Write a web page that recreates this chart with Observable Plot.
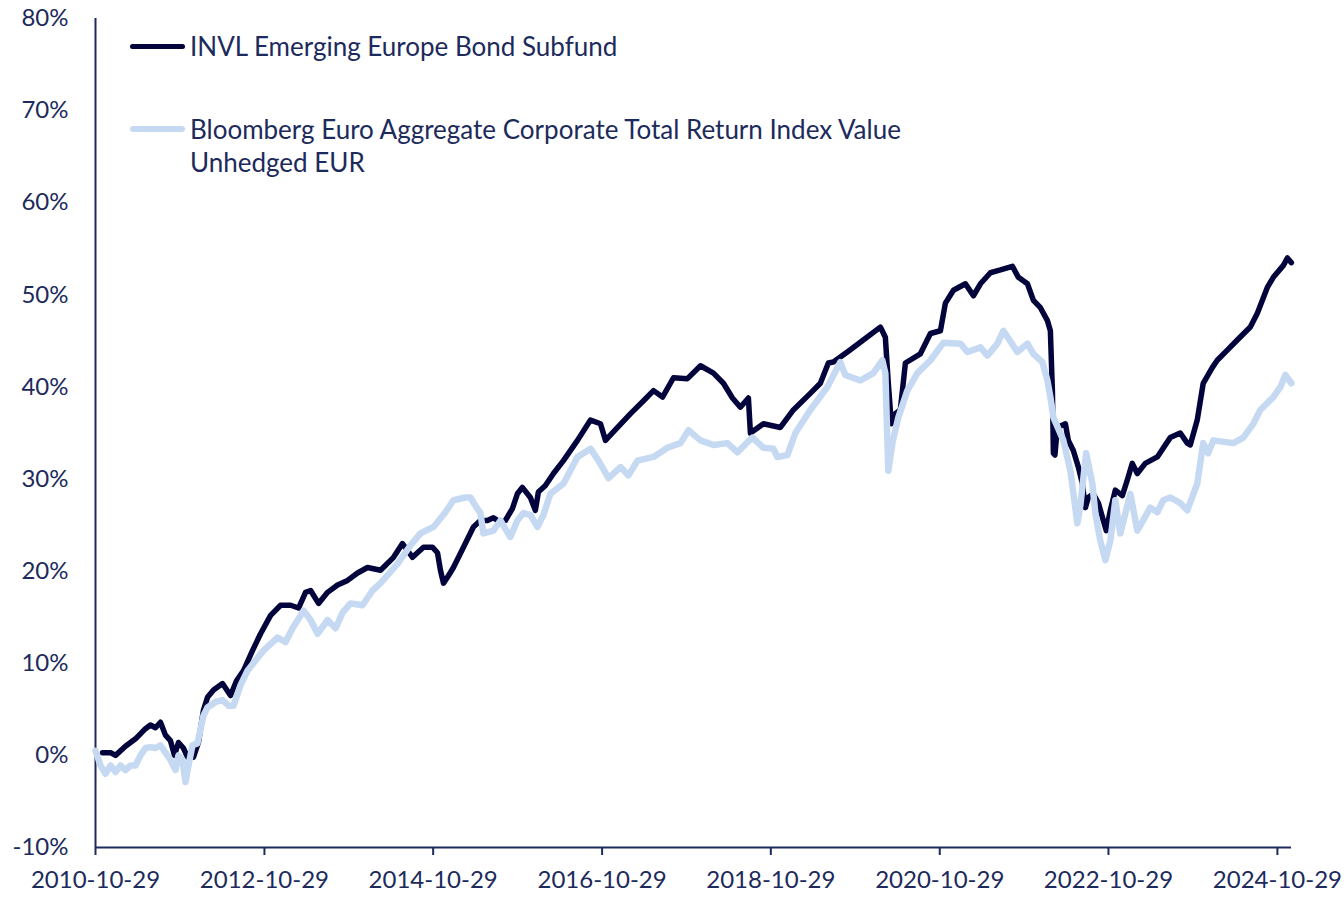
<!DOCTYPE html>
<html><head><meta charset="utf-8">
<script src="https://cdn.jsdelivr.net/npm/d3@7"></script>
<script src="https://cdn.jsdelivr.net/npm/@observablehq/plot@0.6"></script>
<style>
body{margin:0;background:#fff;}
#wrap{position:relative;width:1344px;height:897px;font-family:Lato,"Open Sans",sans-serif;color:#1c2a5c;}
#chart svg{display:block;}
.lg{position:absolute;left:190px;font-size:26px;line-height:33px;white-space:nowrap;}
.sw{position:absolute;left:130px;width:55px;border-radius:3px;}
</style></head><body><div id="wrap"><div id="chart"></div></div>
<script>
const seriesNames = ["INVL Emerging Europe Bond Subfund", "Bloomberg Euro Aggregate Corporate Total Return Index Value Unhedged EUR"];
const seriesColors = ["#03043b", "#c6d9f2"];
const yTicks = [-10, 0, 10, 20, 30, 40, 50, 60, 70, 80];
const xTickDates = ["2010-10-29","2012-10-29","2014-10-29","2016-10-29","2018-10-29","2020-10-29","2022-10-29","2024-10-29"];
const xDomain = ["2010-10-29", "2024-12-29"];

// decimal years, cumulative return in %
const fundYears = [2010.908, 2011.003, 2011.062, 2011.180, 2011.299, 2011.417, 2011.476, 2011.536, 2011.595, 2011.654, 2011.713, 2011.761, 2011.808, 2011.867, 2011.915, 2011.986, 2012.045, 2012.104, 2012.152, 2012.223, 2012.329, 2012.424, 2012.495, 2012.578, 2012.685, 2012.779, 2012.898, 2013.016, 2013.135, 2013.229, 2013.312, 2013.372, 2013.466, 2013.573, 2013.691, 2013.810, 2013.928, 2014.047, 2014.201, 2014.355, 2014.461, 2014.580, 2014.710, 2014.816, 2014.876, 2014.911, 2014.947, 2015.006, 2015.065, 2015.184, 2015.302, 2015.385, 2015.468, 2015.539, 2015.622, 2015.681, 2015.764, 2015.823, 2015.882, 2015.977, 2016.036, 2016.072, 2016.155, 2016.250, 2016.368, 2016.534, 2016.688, 2016.806, 2016.865, 2017.008, 2017.162, 2017.316, 2017.434, 2017.541, 2017.671, 2017.837, 2017.991, 2018.145, 2018.263, 2018.370, 2018.464, 2018.559, 2018.583, 2018.737, 2018.938, 2019.092, 2019.293, 2019.412, 2019.507, 2019.566, 2019.732, 2019.921, 2020.123, 2020.182, 2020.217, 2020.253, 2020.300, 2020.359, 2020.419, 2020.596, 2020.715, 2020.833, 2020.892, 2020.987, 2021.129, 2021.224, 2021.307, 2021.425, 2021.544, 2021.686, 2021.757, 2021.864, 2021.935, 2022.018, 2022.101, 2022.136, 2022.160, 2022.172, 2022.190, 2022.219, 2022.314, 2022.349, 2022.408, 2022.468, 2022.515, 2022.551, 2022.586, 2022.645, 2022.705, 2022.764, 2022.799, 2022.847, 2022.906, 2022.989, 2023.048, 2023.107, 2023.167, 2023.261, 2023.404, 2023.557, 2023.676, 2023.759, 2023.794, 2023.877, 2023.948, 2024.055, 2024.114, 2024.233, 2024.351, 2024.505, 2024.588, 2024.706, 2024.777, 2024.896, 2024.943, 2024.990];
const fundReturns = [0.3, 0.3, 0.0, 1.0, 1.8, 2.9, 3.3, 3.0, 3.6, 2.2, 1.6, 0.0, 1.4, 0.8, -0.2, -0.2, 1.4, 4.9, 6.3, 7.1, 7.8, 6.5, 8.1, 9.2, 11.4, 13.2, 15.2, 16.3, 16.3, 16.0, 17.7, 17.9, 16.5, 17.7, 18.5, 19.0, 19.8, 20.4, 20.1, 21.5, 23.0, 21.5, 22.6, 22.6, 22.0, 20.1, 18.7, 19.5, 20.4, 22.6, 24.8, 25.5, 25.5, 25.8, 25.3, 25.5, 26.8, 28.4, 29.1, 28.0, 26.6, 28.6, 29.3, 30.6, 32.0, 34.2, 36.4, 36.0, 34.2, 35.6, 37.1, 38.5, 39.6, 38.9, 41.0, 40.9, 42.3, 41.5, 40.4, 38.8, 37.8, 38.8, 35.0, 36.0, 35.6, 37.5, 39.3, 40.4, 42.6, 42.7, 43.8, 45.1, 46.5, 45.4, 40.4, 36.0, 37.1, 37.5, 42.6, 43.6, 45.8, 46.1, 49.1, 50.5, 51.2, 49.9, 51.2, 52.4, 52.7, 53.1, 51.9, 51.2, 49.4, 48.6, 47.2, 46.1, 39.6, 32.8, 32.6, 35.6, 36.0, 34.2, 33.1, 31.3, 29.5, 26.9, 28.0, 28.4, 27.4, 25.5, 24.4, 26.6, 28.8, 28.2, 29.9, 31.7, 30.6, 31.7, 32.4, 34.5, 35.0, 33.9, 33.7, 36.4, 40.4, 42.1, 42.9, 44.0, 45.1, 46.5, 48.0, 50.8, 51.9, 53.2, 54.0, 53.5];

const indexYears = [2010.825, 2010.884, 2010.943, 2011.003, 2011.062, 2011.121, 2011.180, 2011.240, 2011.299, 2011.358, 2011.417, 2011.476, 2011.536, 2011.595, 2011.654, 2011.713, 2011.773, 2011.808, 2011.855, 2011.891, 2011.927, 2011.974, 2012.033, 2012.104, 2012.152, 2012.246, 2012.329, 2012.400, 2012.460, 2012.542, 2012.625, 2012.720, 2012.815, 2012.981, 2013.075, 2013.158, 2013.289, 2013.372, 2013.454, 2013.573, 2013.668, 2013.751, 2013.845, 2013.987, 2014.106, 2014.201, 2014.402, 2014.556, 2014.674, 2014.828, 2014.970, 2015.065, 2015.207, 2015.267, 2015.326, 2015.385, 2015.420, 2015.539, 2015.622, 2015.740, 2015.823, 2015.894, 2015.977, 2016.060, 2016.131, 2016.214, 2016.368, 2016.534, 2016.688, 2016.783, 2016.901, 2017.043, 2017.138, 2017.244, 2017.434, 2017.600, 2017.754, 2017.849, 2017.991, 2018.145, 2018.310, 2018.429, 2018.547, 2018.607, 2018.737, 2018.855, 2018.903, 2019.021, 2019.116, 2019.293, 2019.495, 2019.649, 2019.708, 2019.886, 2020.040, 2020.146, 2020.182, 2020.217, 2020.265, 2020.336, 2020.442, 2020.561, 2020.715, 2020.869, 2021.070, 2021.153, 2021.307, 2021.390, 2021.508, 2021.579, 2021.745, 2021.864, 2021.935, 2022.041, 2022.101, 2022.136, 2022.172, 2022.290, 2022.373, 2022.456, 2022.491, 2022.560, 2022.634, 2022.669, 2022.728, 2022.788, 2022.847, 2022.906, 2022.965, 2023.084, 2023.167, 2023.320, 2023.404, 2023.474, 2023.557, 2023.676, 2023.759, 2023.877, 2023.948, 2024.007, 2024.067, 2024.304, 2024.422, 2024.540, 2024.623, 2024.777, 2024.860, 2024.919, 2024.990];
const indexReturns = [0.5, -1.1, -2.0, -1.1, -1.8, -1.1, -1.6, -1.1, -1.1, 0.0, 0.8, 0.9, 0.8, 1.1, 0.3, -0.5, -1.6, 0.0, -0.5, -2.9, -1.1, 1.1, 1.3, 4.3, 5.2, 5.8, 6.0, 5.4, 5.4, 7.6, 9.2, 10.3, 11.4, 12.8, 12.3, 13.8, 15.7, 14.7, 13.2, 14.7, 13.8, 15.5, 16.5, 16.3, 17.9, 18.7, 20.8, 22.8, 24.1, 24.8, 26.4, 27.7, 28.0, 28.0, 27.1, 26.3, 24.1, 24.4, 25.5, 23.7, 25.5, 26.3, 26.1, 24.8, 26.1, 28.4, 29.5, 32.4, 33.3, 32.0, 30.1, 31.3, 30.4, 32.0, 32.4, 33.4, 33.9, 35.3, 34.2, 33.7, 33.9, 32.9, 34.0, 34.5, 33.4, 33.3, 32.4, 32.6, 35.0, 37.5, 40.0, 42.7, 41.3, 40.7, 41.5, 42.9, 41.5, 30.9, 33.9, 36.7, 39.6, 41.5, 42.9, 44.8, 44.7, 43.8, 44.3, 43.4, 44.7, 46.1, 43.8, 44.7, 43.6, 42.7, 40.7, 38.9, 36.7, 34.2, 30.9, 25.2, 27.1, 32.8, 29.5, 26.3, 23.3, 21.2, 23.3, 27.7, 24.1, 28.4, 24.4, 26.9, 26.4, 27.7, 28.0, 27.4, 26.6, 29.5, 33.9, 32.8, 34.2, 33.9, 34.5, 36.0, 37.5, 38.9, 40.0, 41.3, 40.4];

const axisColor = "#1c2a5c";
const toDate = t => { const y = Math.floor(t); const a = Date.UTC(y,0,1), b = Date.UTC(y+1,0,1); return new Date(a + (t - y) * (b - a)); };
const parse = s => new Date(s + "T00:00:00Z");

const wrap = document.getElementById("wrap");
if (fundYears.length !== fundReturns.length || indexYears.length !== indexReturns.length) {
  throw new Error("length mismatch " + fundYears.length + "/" + fundReturns.length + " " + indexYears.length + "/" + indexReturns.length);
}
const fund = fundYears.map((t, i) => ({date: toDate(t), value: fundReturns[i]}));
const index = indexYears.map((t, i) => ({date: toDate(t), value: indexReturns[i]}));

const chart = Plot.plot({
  width: 1344, height: 897,
  marginLeft: 95, marginRight: 53, marginTop: 18, marginBottom: 50,
  style: {fontFamily: "Lato, 'Open Sans', sans-serif", fontSize: "24px", color: axisColor, background: "#fff", overflow: "visible"},
  x: {type: "utc", domain: xDomain.map(parse)},
  y: {domain: [-10, 80]},
  marks: [
    Plot.axisX({ticks: xTickDates.map(parse), tickFormat: d3.utcFormat("%Y-%m-%d"), tickSize: 8, tickPadding: 15, stroke: axisColor, strokeWidth: 2, strokeOpacity: 1, fill: axisColor, fontSize: 24, label: null}),
    Plot.axisY({ticks: yTicks, tickFormat: d => d + "%", tickSize: 0, tickPadding: 27, fill: axisColor, fontSize: 24, label: null}),
    Plot.ruleY([-10], {stroke: axisColor, strokeWidth: 2}),
    Plot.ruleX([parse(xDomain[0])], {stroke: axisColor, strokeWidth: 2}),
    Plot.line(fund, {x: "date", y: "value", stroke: seriesColors[0], strokeWidth: 5.5, strokeLinejoin: "round", strokeLinecap: "round"}),
    Plot.line(index, {x: "date", y: "value", stroke: seriesColors[1], strokeWidth: 6.5, strokeLinejoin: "round", strokeLinecap: "round"})
  ]
});
document.getElementById("chart").appendChild(chart);

// legend (inside plot area, top-left)
const legendLines = [[seriesNames[0]], ["Bloomberg Euro Aggregate Corporate Total Return Index Value", "Unhedged EUR"]];
const legendTops = [30, 113];
const swatchTops = [44, 126];
const swatchHeights = [5, 6];
legendLines.forEach((lines, i) => {
  const sw = document.createElement("div");
  sw.className = "sw";
  sw.style.top = swatchTops[i] + "px";
  sw.style.height = swatchHeights[i] + "px";
  sw.style.background = seriesColors[i];
  wrap.appendChild(sw);
  const t = document.createElement("div");
  t.className = "lg";
  t.style.top = legendTops[i] + "px";
  lines.forEach((s, j) => { if (j) t.appendChild(document.createElement("br")); t.appendChild(document.createTextNode(s)); });
  wrap.appendChild(t);
});
</script></body></html>
